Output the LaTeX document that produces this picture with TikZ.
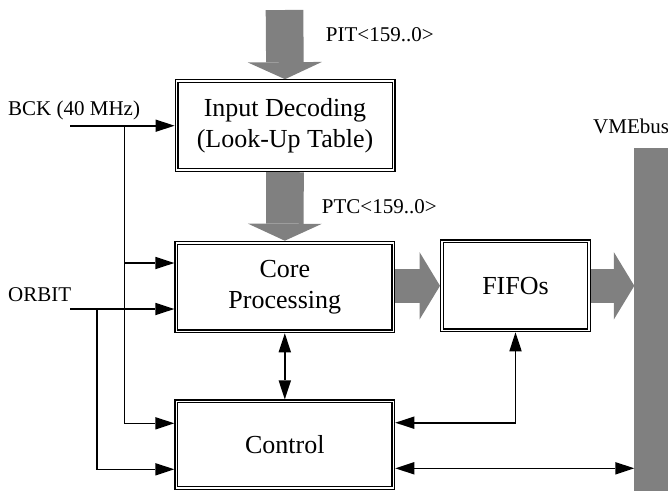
\documentclass[tikz,border=0pt]{standalone}
\usepackage{fontspec}
\setmainfont{Liberation Serif}
\usetikzlibrary{arrows.meta}
\definecolor{busgray}{RGB}{128,128,128}
\begin{document}
\begin{tikzpicture}[x=1pt,y=-1pt,
  box/.style={draw, double=white, double distance=1.6pt, line width=1.2pt, outer sep=2pt, inner sep=0pt, align=center, font=\fontsize{26}{31}\selectfont},
  lbl/.style={anchor=west, inner sep=0pt, font=\fontsize{21}{25}\selectfont},
  tip/.style={Triangle[length=19pt,width=12.5pt,line width=0pt]},
  sig/.style={line width=1.6pt, -{Triangle[length=19pt,width=12.5pt,line width=0pt]}},
  sigg/.style={line width=1.6pt, {Triangle[length=19pt,width=12.5pt,line width=0pt]}-{Triangle[length=19pt,width=12.5pt,line width=0pt]}},
  vbus/.style={draw=busgray, line width=37.6pt, -{Triangle[length=17pt,width=74pt,line width=0pt]}},
  hbus/.style={draw=busgray, line width=34pt, -{Triangle[length=20.5pt,width=67.5pt,line width=0pt]}}]
\useasboundingbox (0,0) rectangle (668,491);

% boxes
\node[box, minimum width=217pt, minimum height=89pt] (inp) at (285,125.7) {Input Decoding\\(Look-Up Table)};
\node[box, minimum width=217pt, minimum height=88.6pt] (core) at (284.8,287) {Core\\Processing};
\node[box, minimum width=147pt, minimum height=89pt] (fifo) at (515.5,285.8) {FIFOs};
\node[box, minimum width=217pt, minimum height=86.7pt] (ctrl) at (284.8,444.7) {Control};

% VME bus bar
\node[fill=busgray, anchor=north west, inner sep=0pt, outer sep=0pt, minimum width=34pt, minimum height=343pt] (vme) at (634.3,148.3) {};

% labels
\node[lbl] (pitl) at (325.7,35) {PIT<159..0>};
\node[lbl] (ptcl) at (321.7,206.7) {PTC<159..0>};
\node[lbl] (bckl) at (8,110.7) {BCK (40 MHz)};
\node[lbl] (orbl) at (8,295) {ORBIT};
\node[lbl] (vmel) at (593,126) {VMEbus};

% gray bus arrows
\coordinate (pit) at (284.5,10);
\draw[vbus] (pit) -- (inp.north);
\draw[vbus] (inp.south) -- (core.north);
\draw[hbus] (core.east |- fifo.west) -- (fifo.west);
\draw[hbus] (fifo.east) -- (vme.west |- fifo.east);

% signals
\coordinate (bck) at (70,125.7);
\coordinate (bj) at (124.3,125.7);
\coordinate (orb) at (70,309);
\coordinate (oj) at (96.7,309);
\draw[sig] (bck) -- (inp.west);
\draw[sig] (bj) |- (ctrl.west |- 0,423.3);
\draw[sig] (bj |- 0,263) -- (core.west |- 0,263);
\draw[sig] (orb) -- (core.west |- orb);
\draw[sig] (oj) |- (ctrl.west |- 0,469.3);
\draw[sigg] (core.south) -- (ctrl.north);
\draw[sigg] (fifo.south) |- (ctrl.east |- 0,422.7);
\draw[sigg] (ctrl.east |- 0,468.3) -- (vme.west |- 0,468.3);
\end{tikzpicture}
\end{document}
